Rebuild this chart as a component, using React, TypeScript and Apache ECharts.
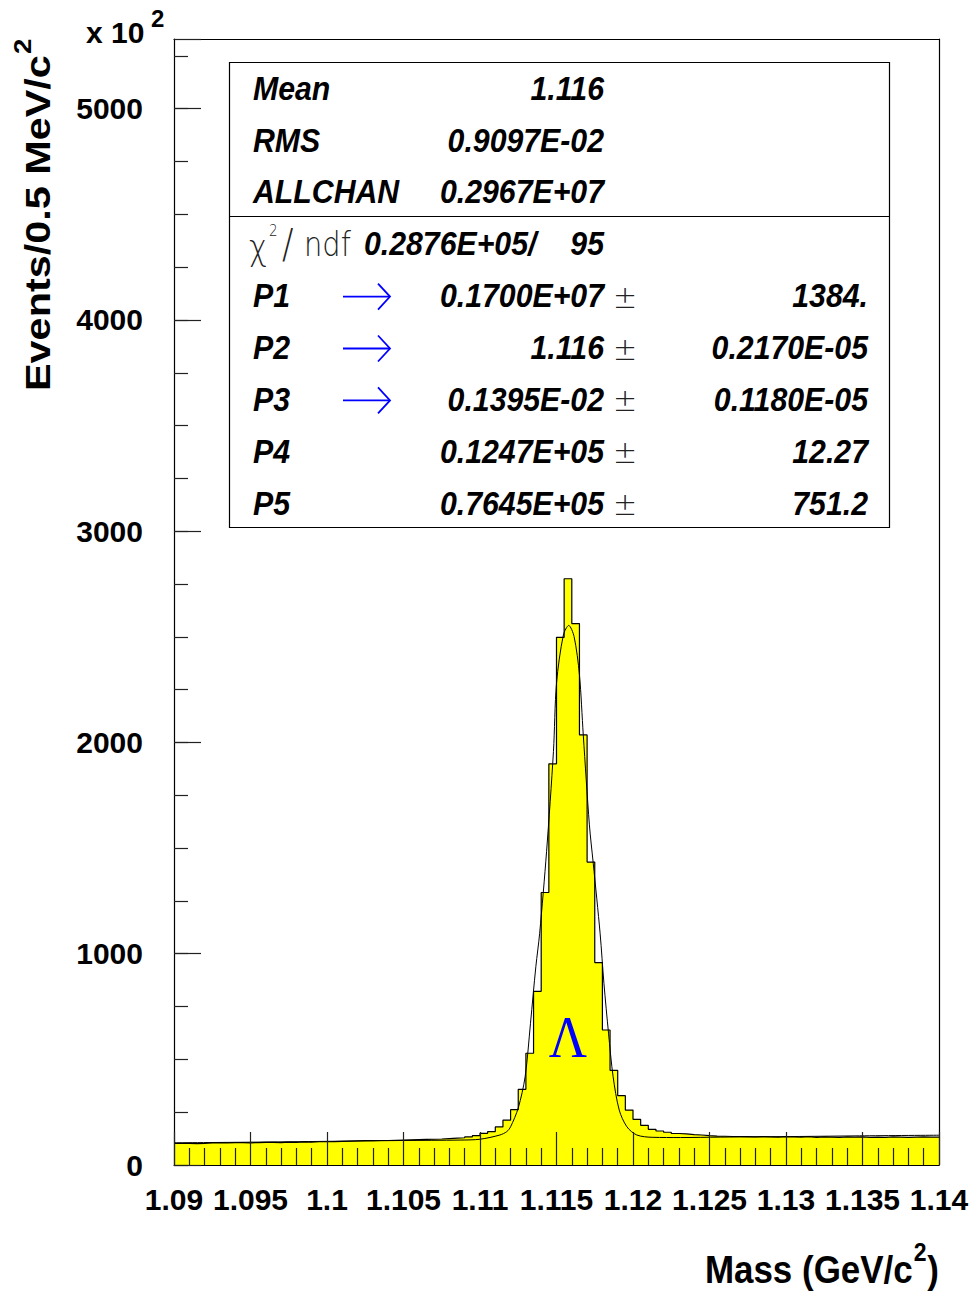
import React, { useEffect, useRef } from "react";
import * as echarts from "echarts";

// Invariant-mass histogram: 100 bins of 0.5 MeV from 1090 to 1140 MeV (shown in GeV)
const LOW_EDGE = 1090;
const BIN_WIDTH = 0.5;

// Entries per bin, in units of 10^2
const binCounts = [
  102, 102, 101, 102, 105, 106, 105, 106, 106, 105,
  106, 107, 107, 106, 108, 107, 109, 108, 110, 110,
  111, 112, 113, 114, 115, 115, 116, 116, 117, 118,
  119, 120, 121, 122, 123, 125, 127, 129, 133, 139,
  150, 158, 180, 212, 262, 358, 529, 822, 1290, 1899,
  2498, 2775, 2563, 2036, 1434, 958, 639, 448, 328, 260,
  216, 188, 169, 161, 155, 149, 147, 144, 142, 139,
  137, 136, 135, 135, 134, 133, 134, 133, 132, 134,
  133, 132, 134, 131, 133, 132, 131, 133, 132, 133,
  131, 132, 131, 133, 132, 131, 132, 133, 132, 132,
];

// Fitted curve (Gaussian peak on a linear background), sampled in MeV
const fitMass = [
  1090, 1095, 1100, 1105, 1108.7, 1110, 1111.3, 1111.75, 1112.0, 1112.5,
  1112.95, 1113.3, 1113.65, 1113.9, 1114.35, 1114.8, 1115.0, 1115.45, 1115.8, 1116.15,
  1116.5, 1116.75, 1117.15, 1117.4, 1117.85, 1118.1, 1118.4, 1118.7, 1119.1, 1119.6,
  1120.25, 1121.3, 1123.1, 1125.7, 1130.9, 1134.8, 1140,
];
const fitCounts = [
  105, 108, 112, 116, 118, 122, 142, 158, 181, 270,
  418, 671, 939, 1097, 1483, 1957, 2280, 2509, 2554, 2501,
  2320, 2036, 1610, 1429, 1097, 860, 624, 418, 260, 181,
  142, 131, 130, 132, 135, 138, 141,
];

// Statistics box
const statNames = ["Mean", "RMS", "ALLCHAN"];
const statValues = ["1.116", "0.9097E-02", "0.2967E+07"];
const chi2Value = "0.2876E+05/";
const ndfValue = "95";
const paramNames = ["P1", "P2", "P3", "P4", "P5"];
const paramValues = ["0.1700E+07", "1.116", "0.1395E-02", "0.1247E+05", "0.7645E+05"];
const paramErrors = ["1384.", "0.2170E-05", "0.1180E-05", "12.27", "751.2"];
const paramFree = [true, true, true, false, false];

const SANS = "'Liberation Sans', Arial, Helvetica, sans-serif";
const THIN = "'DejaVu Sans', sans-serif";

function boxText(text: string, x: number, y: number, align: string) {
  return {
    type: "text",
    x,
    y,
    scaleX: 0.89,
    z: 30,
    style: {
      text,
      fontFamily: SANS,
      fontWeight: "bold",
      fontStyle: "italic",
      fontSize: 34,
      fill: "#000",
      align,
      verticalAlign: "middle",
    },
  };
}

function thinText(text: string, x: number, y: number, size: number, align = "left", scaleX = 0.85) {
  return {
    type: "text",
    x,
    y,
    scaleX,
    z: 30,
    style: {
      text,
      fontFamily: THIN,
      fontWeight: 200,
      fontSize: size,
      fill: "#222",
      align,
      verticalAlign: "middle",
    },
  };
}

function arrow(y: number) {
  return {
    type: "group",
    z: 30,
    children: [
      { type: "line", z: 30, shape: { x1: 343, y1: y, x2: 390, y2: y }, style: { stroke: "#0000ff", lineWidth: 1.8 } },
      {
        type: "polyline",
        z: 30,
        shape: { points: [[378, y - 13], [390, y], [378, y + 13]] },
        style: { stroke: "#0000ff", lineWidth: 1.8, fill: null },
      },
    ],
  };
}

function buildGraphic() {
  const rowY0 = 88;
  const rowStep = 51.9;
  const els: any[] = [];
  els.push({
    type: "rect",
    z: 25,
    shape: { x: 229.5, y: 62.5, width: 660, height: 465 },
    style: { fill: "#fff", stroke: "#000", lineWidth: 1.2 },
  });
  els.push({
    type: "line",
    z: 26,
    shape: { x1: 229.5, y1: 216.5, x2: 889.5, y2: 216.5 },
    style: { stroke: "#000", lineWidth: 1.2 },
  });
  statNames.forEach((n, i) => {
    const y = rowY0 + i * rowStep;
    els.push(boxText(n, 253, y, "left"));
    els.push(boxText(statValues[i], 604, y, "right"));
  });
  const cy = rowY0 + 3 * rowStep;
  els.push(thinText("χ", 249, cy + 4, 36, "left", 0.85));
  els.push(thinText("2", 269, cy - 13, 15, "left", 0.9));
  els.push(thinText("/", 282, cy + 1, 40, "left", 0.85));
  els.push(thinText("ndf", 304, cy, 34, "left", 0.85));
  els.push(boxText(chi2Value, 364, cy, "left"));
  els.push(boxText(ndfValue, 604, cy, "right"));
  paramNames.forEach((n, i) => {
    const y = rowY0 + (4 + i) * rowStep;
    els.push(boxText(n, 253, y, "left"));
    if (paramFree[i]) els.push(arrow(y + 1));
    els.push(boxText(paramValues[i], 604, y, "right"));
    els.push(thinText("±", 625, y + 1, 32, "center", 0.9));
    els.push(boxText(paramErrors[i], 868, y, "right"));
  });

  // Scale factor above the y axis
  els.push({
    type: "text",
    x: 86,
    y: 32,
    z: 30,
    style: { text: "x 10", fontFamily: SANS, fontWeight: "bold", fontSize: 30, fill: "#000", align: "left", verticalAlign: "middle" },
  });
  els.push({
    type: "text",
    x: 151,
    y: 18,
    z: 30,
    style: { text: "2", fontFamily: SANS, fontWeight: "bold", fontSize: 24, fill: "#000", align: "left", verticalAlign: "middle" },
  });

  // Y axis title, reading upwards
  els.push({
    type: "text",
    x: 37,
    y: 391,
    rotation: Math.PI / 2,
    scaleX: 1.15,
    z: 30,
    style: {
      text: "{m|Events/0.5 MeV/c}{s|2}",
      align: "left",
      verticalAlign: "middle",
      rich: {
        m: { fontFamily: SANS, fontWeight: "bold", fontSize: 36, fill: "#000", verticalAlign: "bottom", lineHeight: 36 },
        s: { fontFamily: SANS, fontWeight: "bold", fontSize: 24, fill: "#000", verticalAlign: "bottom", lineHeight: 24, padding: [0, 0, 20, 1] },
      },
    },
  });

  // X axis title
  els.push({
    type: "text",
    x: 939,
    y: 1270,
    scaleX: 0.92,
    z: 30,
    style: {
      text: "{m|Mass (GeV/c}{s|2}{m|)}",
      align: "right",
      verticalAlign: "middle",
      rich: {
        m: { fontFamily: SANS, fontWeight: "bold", fontSize: 38, fill: "#000", verticalAlign: "bottom", lineHeight: 38 },
        s: { fontFamily: SANS, fontWeight: "bold", fontSize: 25, fill: "#000", verticalAlign: "bottom", lineHeight: 25, padding: [0, 1, 24, 1] },
      },
    },
  });

  // Particle label on the peak
  els.push({
    type: "text",
    x: 568,
    y: 1037,
    scaleX: 0.88,
    z: 30,
    style: { text: "Λ", fontFamily: "'Liberation Serif', 'Times New Roman', serif", fontSize: 60, fill: "#0000ff", align: "center", verticalAlign: "middle" },
  });
  return els;
}

export default function App() {
  const ref = useRef<HTMLDivElement>(null);

  useEffect(() => {
    if (!ref.current) return;
    const chart = echarts.init(ref.current, undefined, { renderer: "svg" });

    const histPoints = binCounts.map((c, i) => [LOW_EDGE + i * BIN_WIDTH, c]);
    histPoints.push([LOW_EDGE + binCounts.length * BIN_WIDTH, binCounts[binCounts.length - 1]]);
    const fitPoints = fitMass.map((m, i) => [m, fitCounts[i]]);

    const tickColor = "#222";
    const labelStyle = { fontFamily: SANS, fontWeight: "bold", fontSize: 30, color: "#000" };

    chart.setOption({
      animation: false,
      backgroundColor: "#fff",
      grid: { left: 174, top: 39, width: 765, height: 1126, containLabel: false },
      xAxis: [
        {
          type: "value",
          position: "bottom",
          min: 1090,
          max: 1140,
          interval: 5,
          z: 10,
          axisLine: { show: true, onZero: false, lineStyle: { color: "#000", width: 1.2 } },
          axisTick: { show: true, inside: true, length: 33, lineStyle: { color: tickColor, width: 1.2 } },
          minorTick: { show: true, splitNumber: 5, length: 17, lineStyle: { color: tickColor, width: 1.2 } },
          splitLine: { show: false },
          axisLabel: {
            ...labelStyle,
            margin: 19,
            interval: 0,
            showMinLabel: true,
            showMaxLabel: true,
            formatter: (v: number) => String(+(v / 1000).toFixed(3)),
          },
        },
        {
          type: "value",
          position: "top",
          min: 1090,
          max: 1140,
          z: 10,
          axisLine: { show: true, onZero: false, lineStyle: { color: "#000", width: 1.2 } },
          axisTick: { show: false },
          axisLabel: { show: false },
          splitLine: { show: false },
        },
      ],
      yAxis: [
        {
          type: "value",
          position: "left",
          min: 0,
          max: 5330,
          interval: 250,
          z: 10,
          axisLine: { show: true, onZero: false, lineStyle: { color: "#000", width: 1.2 } },
          axisTick: { show: true, inside: true, length: 14, lineStyle: { color: tickColor, width: 1.2 } },
          splitLine: { show: false },
          axisLabel: {
            ...labelStyle,
            margin: 31,
            showMaxLabel: false,
            formatter: (v: number) => (v % 1000 === 0 ? String(v) : ""),
          },
        },
        {
          type: "value",
          position: "left",
          offset: 0,
          min: 0,
          max: 5330,
          interval: 1000,
          z: 10,
          axisLine: { show: false },
          axisTick: { show: true, inside: true, length: 27, lineStyle: { color: tickColor, width: 1.2 } },
          splitLine: { show: false },
          axisLabel: { show: false },
        },
        {
          type: "value",
          position: "right",
          min: 0,
          max: 5330,
          z: 10,
          axisLine: { show: true, onZero: false, lineStyle: { color: "#000", width: 1.2 } },
          axisTick: { show: false },
          splitLine: { show: false },
          axisLabel: { show: false },
        },
      ],
      series: [
        {
          type: "line",
          name: "histogram",
          xAxisIndex: 0,
          yAxisIndex: 0,
          data: histPoints,
          step: "end",
          symbol: "none",
          z: 2,
          lineStyle: { color: "#000", width: 1.2 },
          areaStyle: { color: "#ffff00", opacity: 1, origin: "start" },
        },
        {
          type: "line",
          name: "fit",
          xAxisIndex: 0,
          yAxisIndex: 0,
          data: fitPoints,
          smooth: 0.3,
          symbol: "none",
          z: 3,
          lineStyle: { color: "#000", width: 1 },
        },
      ],
      graphic: buildGraphic(),
    });

    return () => chart.dispose();
  }, []);

  return (
    <div
      ref={ref}
      style={{ position: "absolute", left: 0, top: 0, width: 972, height: 1294, background: "#fff" }}
    />
  );
}
